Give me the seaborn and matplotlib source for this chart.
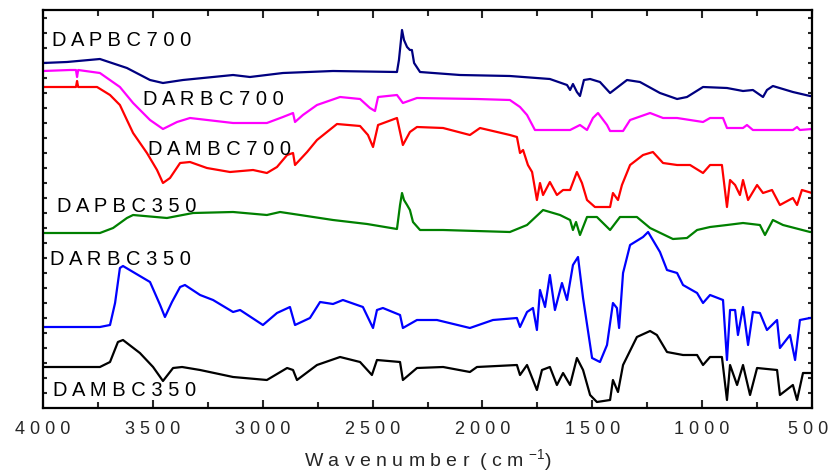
import matplotlib
matplotlib.use("Agg")
import matplotlib.pyplot as plt
import matplotlib.transforms as mtransforms
import seaborn as sns
import pandas as pd

# ---- FTIR spectra (wavenumber in cm^-1, stacked transmittance in a.u.) ----
wn_dapbc700 = [4000, 3891, 3741, 3618, 3513, 3454, 3363, 3135, 3058, 2908, 2680, 2389,
               2380, 2366, 2357, 2343, 2330, 2321, 2311, 2284, 2102, 1875, 1693, 1615,
               1601, 1588, 1570, 1556, 1538, 1510, 1465, 1419, 1342, 1283, 1192, 1114,
               1069, 996, 887, 814, 769, 723, 705, 678, 587, 509, 500]
t_dapbc700 = [345, 346, 349, 340, 328, 325, 328, 333, 331, 335, 337, 336,
              348, 378, 368, 361, 358, 358, 345, 336, 333, 332, 329, 323,
              318, 324, 316, 312, 328, 329, 326, 315, 328, 326, 315, 309,
              311, 321, 320, 317, 318, 311, 318, 322, 316, 312, 312]

wn_darbc700 = [4000, 3877, 3850, 3845, 3840, 3741, 3650, 3590, 3513, 3454, 3390, 3331,
               3135, 2981, 2908, 2862, 2853, 2817, 2753, 2648, 2557, 2512, 2489, 2475,
               2389, 2362, 2298, 2025, 1875, 1829, 1797, 1761, 1601, 1556, 1524, 1497,
               1474, 1433, 1419, 1360, 1328, 1237, 1178, 1114, 996, 964, 905, 887,
               814, 796, 769, 587, 568, 555, 500]
t_darbc700 = [337, 338, 338, 331, 338, 335, 321, 305, 288, 279, 286, 290,
              285, 285, 291, 295, 286, 293, 303, 311, 309, 300, 297, 311,
              313, 305, 310, 309, 308, 301, 293, 278, 278, 283, 278, 290,
              295, 283, 277, 277, 288, 295, 290, 290, 286, 290, 290, 280,
              280, 283, 278, 278, 281, 278, 279]

wn_dambc700 = [4000, 3850, 3845, 3840, 3754, 3695, 3650, 3618, 3590, 3527, 3481, 3454,
               3422, 3376, 3331, 3254, 3149, 3044, 2981, 2935, 2889, 2862, 2853, 2798,
               2753, 2662, 2557, 2521, 2498, 2475, 2389, 2362, 2330, 2298, 2179, 2057,
               2011, 1875, 1843, 1829, 1815, 1793, 1774, 1752, 1738, 1724, 1693, 1661,
               1633, 1601, 1570, 1547, 1524, 1488, 1419, 1406, 1383, 1365, 1328, 1269,
               1224, 1178, 1114, 1055, 996, 964, 910, 887, 873, 850, 828, 814,
               791, 750, 723, 682, 646, 587, 568, 546, 500]
t_dambc700 = [321, 321, 327, 321, 321, 313, 303, 288, 275, 255, 238, 225,
              230, 245, 246, 240, 236, 238, 235, 241, 253, 255, 243, 256,
              268, 284, 282, 273, 261, 283, 290, 263, 276, 281, 280, 273,
              280, 273, 271, 255, 258, 243, 236, 208, 225, 213, 226, 213,
              218, 218, 236, 225, 208, 201, 201, 215, 208, 223, 243, 253,
              256, 245, 243, 243, 235, 243, 243, 201, 228, 223, 213, 228,
              208, 223, 215, 218, 203, 210, 203, 218, 215]

wn_dapbc350 = [4000, 3741, 3681, 3618, 3590, 3436, 3317, 3135, 2981, 2921, 2830, 2680,
               2525, 2389, 2375, 2366, 2357, 2343, 2330, 2316, 2284, 2179, 1875, 1797,
               1724, 1647, 1601, 1588, 1574, 1556, 1524, 1479, 1419, 1374, 1297, 1237,
               1133, 1069, 1023, 964, 887, 814, 737, 714, 678, 632, 509, 500]
t_dapbc350 = [175, 175, 180, 190, 193, 190, 195, 196, 193, 196, 193, 188,
              184, 179, 203, 215, 208, 203, 198, 186, 178, 178, 176, 183,
              198, 193, 188, 178, 186, 173, 191, 191, 178, 191, 191, 180,
              169, 170, 178, 181, 183, 185, 183, 173, 188, 183, 176, 176]

wn_darbc350 = [4000, 3741, 3695, 3672, 3650, 3636, 3590, 3513, 3467, 3445, 3413, 3376,
               3354, 3285, 3226, 3135, 3103, 2999, 2935, 2876, 2853, 2785, 2739, 2680,
               2635, 2544, 2498, 2480, 2453, 2375, 2362, 2298, 2207, 2057, 1952, 1843,
               1829, 1797, 1770, 1752, 1738, 1715, 1693, 1670, 1638, 1615, 1588, 1565,
               1542, 1501, 1465, 1433, 1406, 1388, 1378, 1360, 1328, 1269, 1246, 1192,
               1160, 1114, 1087, 1023, 996, 964, 905, 887, 873, 850, 837, 814,
               791, 769, 737, 705, 659, 646, 600, 577, 555, 509, 500]
t_darbc350 = [81, 81, 83, 105, 140, 142, 136, 126, 103, 91, 106, 121,
              123, 113, 108, 96, 98, 83, 95, 101, 83, 90, 106, 104,
              108, 101, 80, 98, 100, 93, 80, 88, 88, 80, 88, 90,
              81, 96, 100, 78, 118, 101, 133, 98, 125, 108, 143, 151,
              110, 50, 46, 63, 105, 100, 80, 135, 163, 171, 176, 156,
              138, 135, 123, 115, 105, 113, 108, 48, 98, 98, 73, 101,
              63, 96, 95, 78, 88, 60, 73, 48, 88, 90, 90]

wn_dambc350 = [4000, 3741, 3695, 3659, 3636, 3559, 3499, 3454, 3408, 3367, 3285, 3135,
               2981, 2889, 2862, 2844, 2753, 2648, 2557, 2503, 2480, 2375, 2362, 2298,
               2179, 2057, 2025, 1843, 1829, 1797, 1752, 1729, 1693, 1661, 1633, 1601,
               1570, 1542, 1510, 1479, 1419, 1406, 1383, 1360, 1297, 1237, 1206, 1160,
               1087, 1023, 996, 964, 910, 887, 873, 841, 814, 782, 750, 659,
               646, 587, 568, 541, 500]
t_dambc350 = [41, 41, 46, 66, 68, 55, 41, 27, 40, 41, 38, 31,
              28, 40, 38, 28, 43, 51, 46, 33, 48, 46, 28, 40,
              41, 36, 41, 43, 33, 43, 18, 38, 41, 23, 35, 23,
              50, 38, 13, 6, 8, 28, 16, 43, 71, 77, 73, 56,
              53, 53, 43, 51, 51, 8, 43, 23, 43, 13, 40, 38,
              13, 23, 8, 35, 35]

samples = ["DAPBC700", "DARBC700", "DAMBC700", "DAPBC350", "DARBC350", "DAMBC350"]
colors = ["#000080", "#FF00FF", "#FF0000", "#008000", "#0000FF", "#000000"]
spectra = [(wn_dapbc700, t_dapbc700), (wn_darbc700, t_darbc700),
           (wn_dambc700, t_dambc700), (wn_dapbc350, t_dapbc350),
           (wn_darbc350, t_darbc350), (wn_dambc350, t_dambc350)]

# label anchor points (wavenumber, transmittance)
label_pos = [(3960, 368), (3545, 309), (3522, 259), (3936, 202), (3968, 149), (3954, 17)]

x_ticks = [4000, 3500, 3000, 2500, 2000, 1500, 1000, 500]

sns.set_style("ticks")
plt.rcParams["font.family"] = ["Liberation Sans", "DejaVu Sans"]
plt.rcParams["mathtext.fontset"] = "custom"
plt.rcParams["mathtext.rm"] = "Liberation Sans"
plt.rcParams["mathtext.it"] = "Liberation Sans"

fig = plt.figure(figsize=(8.3, 4.74), dpi=100)
ax = fig.add_axes([43 / 830, 1 - 408 / 474, (812 - 43) / 830, (408 - 10) / 474])

for name, color, (wn, t) in zip(samples, colors, spectra):
    df = pd.DataFrame({"wavenumber": wn, "T": t})
    sns.lineplot(data=df, x="wavenumber", y="T", color=color, lw=1.6,
                 sort=False, estimator=None, ax=ax)

for name, (lx, ly) in zip(samples, label_pos):
    ax.text(lx, ly, " ".join(name), fontsize=14.5, ha="left", va="center", color="black")

ax.set_xlim(4000, 500)
ax.set_ylim(0, 398)
ax.set_xticks(x_ticks)
ax.set_xticklabels([" ".join(str(v)) for v in x_ticks], fontsize=13)
ax.set_xticks(list(range(750, 4000, 500)), minor=True)
ax.set_yticks(list(range(15, 398, 15)))
ax.set_yticklabels([])
ax.tick_params(axis="x", which="major", direction="in", length=6, width=1.5,
               top=True, bottom=True, pad=9)
ax.tick_params(axis="x", which="minor", direction="in", length=4, width=1.5,
               top=True, bottom=True)
ax.tick_params(axis="y", which="major", direction="in", length=3, width=1.5,
               left=True, right=True)
for s in ax.spines.values():
    s.set_linewidth(1.6)
    s.set_color("black")

# keep the right-most tick label inside the canvas
last = ax.get_xticklabels()[-1]
last.set_transform(last.get_transform() +
                   mtransforms.ScaledTranslation(-4 / 100, 0, fig.dpi_scale_trans))

ax.set_xlabel("W a v e n u m b e r  ( c m $^{-1}$)", fontsize=14, labelpad=7)
ax.set_ylabel("")

fig.savefig("out.png", dpi=100)
